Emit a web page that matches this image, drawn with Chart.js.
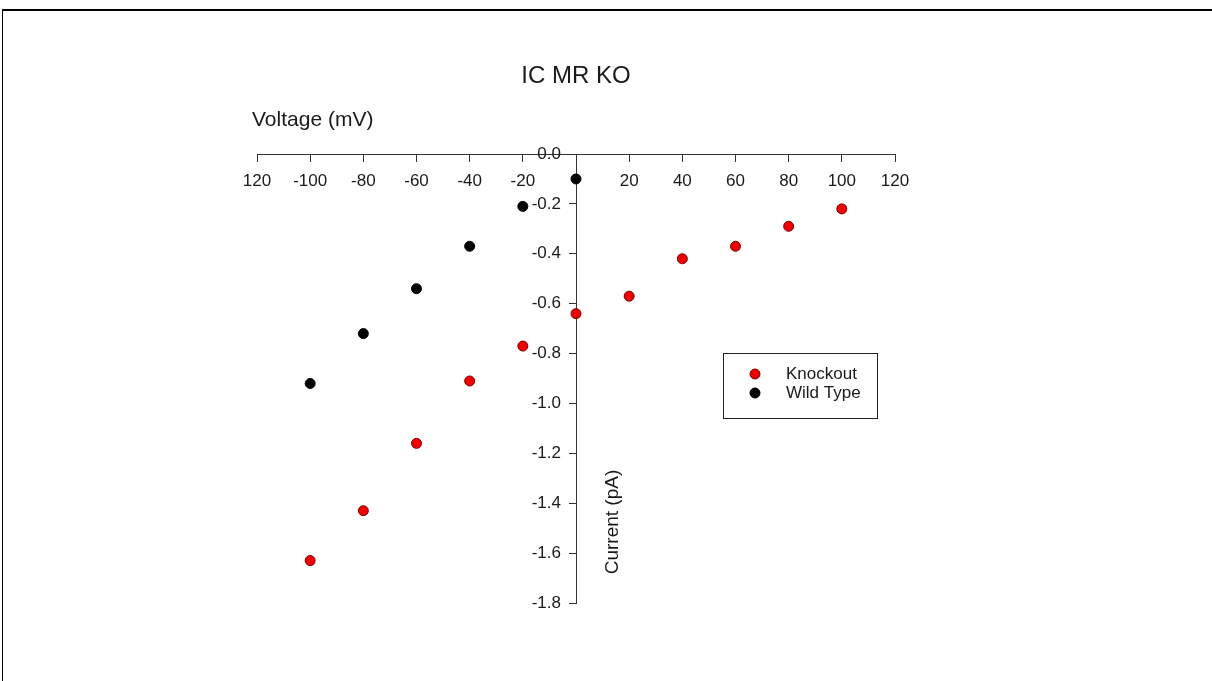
<!DOCTYPE html>
<html>
<head>
<meta charset="utf-8">
<title>IC MR KO</title>
<script src="https://cdn.jsdelivr.net/npm/chart.js@4.4.1/dist/chart.umd.min.js"></script>
<style>
  html, body { margin: 0; padding: 0; background: #fff; }
  #wrap { width: 1212px; height: 681px; position: relative; }
</style>
</head>
<body>
<div id="wrap"><canvas id="iv-chart"></canvas></div>
<script>
// Voltage steps (mV)
const voltages = [-100, -80, -60, -40, -20, 0, 20, 40, 60, 80, 100];
// Current (pA)
const knockoutCurrent = [-1.63, -1.43, -1.16, -0.91, -0.77, -0.64, -0.57, -0.42, -0.37, -0.29, -0.22];
const wildTypeVoltages = [-100, -80, -60, -40, -20, 0];
const wildTypeCurrent = [-0.92, -0.72, -0.54, -0.37, -0.21, -0.10];

const chartTitle = 'IC MR KO';
const xTitle = 'Voltage (mV)';
const yTitle = 'Current (pA)';
const seriesNames = ['Knockout', 'Wild Type'];

const FONT = '"Liberation Sans", Arial, sans-serif';
const TEXT_COLOR = '#1a1a1a';

const toPoints = (xs, ys) => xs.map((x, i) => ({ x: x, y: ys[i] }));
const formatCurrent = (value) => Number(value).toFixed(1);

// Frame, titles, y tick labels and the boxed legend are drawn on top of the chart
const decorPlugin = {
  id: 'decor',
  afterDraw(chart) {
    const ctx = chart.ctx;
    const xScale = chart.scales.x;
    const yScale = chart.scales.y;
    ctx.save();

    // page frame (top and left edges visible)
    ctx.fillStyle = '#000';
    ctx.fillRect(2, 9, 1210, 2);
    ctx.fillRect(2, 9, 1, 672);

    ctx.fillStyle = TEXT_COLOR;
    ctx.textBaseline = 'middle';

    // y tick labels: Chart.js puts no gap on an axis crossing at x = 0, so place them here
    ctx.font = '17px ' + FONT;
    ctx.textAlign = 'right';
    const axisX = xScale.getPixelForValue(0);
    yScale.ticks.forEach(t => {
      ctx.fillText(formatCurrent(t.value), axisX - 15, yScale.getPixelForValue(t.value));
    });

    ctx.font = '24px ' + FONT;
    ctx.textAlign = 'center';
    ctx.fillText(chartTitle, 576, 76);

    ctx.font = '21px ' + FONT;
    ctx.textAlign = 'left';
    ctx.fillText(xTitle, 252, 120);

    // rotated y title
    ctx.save();
    ctx.translate(613, 522);
    ctx.rotate(-Math.PI / 2);
    ctx.font = '19px ' + FONT;
    ctx.textAlign = 'center';
    ctx.fillText(yTitle, 0, 0);
    ctx.restore();

    // legend box
    ctx.strokeStyle = '#222';
    ctx.lineWidth = 1;
    ctx.strokeRect(723.5, 353.5, 154, 65);
    ctx.font = '17px ' + FONT;
    ctx.textAlign = 'left';
    chart.data.datasets.forEach((ds, i) => {
      const y = 374 + i * 19;
      ctx.beginPath();
      ctx.arc(755, y, 5, 0, Math.PI * 2);
      ctx.fillStyle = ds.backgroundColor;
      ctx.fill();
      ctx.strokeStyle = ds.borderColor;
      ctx.stroke();
      ctx.fillStyle = TEXT_COLOR;
      ctx.fillText(ds.label, 786, y);
    });

    ctx.restore();
  }
};

const ctx = document.getElementById('iv-chart').getContext('2d');

new Chart(ctx, {
  type: 'scatter',
  data: {
    datasets: [
      {
        label: seriesNames[0],
        data: toPoints(voltages, knockoutCurrent),
        backgroundColor: '#ee0000',
        borderColor: '#7a0000',
        borderWidth: 1,
        pointRadius: 5
      },
      {
        label: seriesNames[1],
        data: toPoints(wildTypeVoltages, wildTypeCurrent),
        backgroundColor: '#000000',
        borderColor: '#000000',
        borderWidth: 1,
        pointRadius: 5
      }
    ]
  },
  options: {
    responsive: true,
    maintainAspectRatio: false,
    animation: false,
    layout: {
      padding: { left: 257, right: 317, top: 154, bottom: 78 }
    },
    plugins: {
      legend: { display: false },
      tooltip: { enabled: false }
    },
    scales: {
      x: {
        type: 'linear',
        position: { y: 0 },
        min: -120,
        max: 120,
        grid: { drawOnChartArea: false, drawTicks: true, tickLength: 7, color: '#333' },
        border: { display: true, color: '#333', width: 1 },
        ticks: {
          stepSize: 20,
          padding: 10,
          color: TEXT_COLOR,
          font: { family: FONT, size: 17 },
          maxRotation: 0,
          autoSkip: false,
          callback: function(value) {
            if (value === 0) return '';
            if (value === -120) return '120';
            return String(value);
          }
        }
      },
      y: {
        type: 'linear',
        position: { x: 0 },
        min: -1.8,
        max: 0,
        grid: { drawOnChartArea: false, drawTicks: true, tickLength: 7, color: '#333' },
        border: { display: true, color: '#333', width: 1 },
        ticks: {
          stepSize: 0.2,
          autoSkip: false,
          display: false,
          callback: formatCurrent
        }
      }
    }
  },
  plugins: [decorPlugin]
});
</script>
</body>
</html>
